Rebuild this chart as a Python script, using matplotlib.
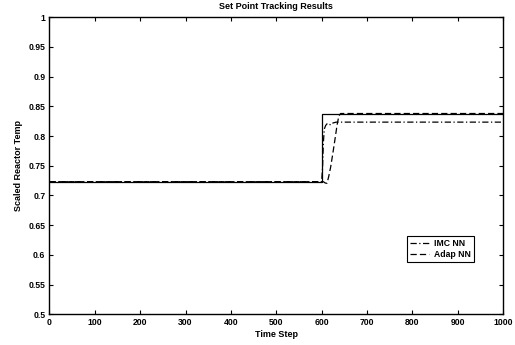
import matplotlib
matplotlib.use("Agg")
import matplotlib.pyplot as plt

# values
setpoint_t = [0, 600, 600, 1000]
setpoint_y = [0.7232, 0.7232, 0.837, 0.837]

imc_t = [0, 600, 602, 604, 606, 609, 613, 617, 620, 625, 632, 1000]
imc_y = [0.7232, 0.7232, 0.745, 0.790, 0.812, 0.818, 0.8215, 0.820, 0.8187, 0.822, 0.8235, 0.8235]

adap_t = [0, 604, 608, 612, 616, 620, 625, 630, 634, 638, 642, 1000]
adap_y = [0.7232, 0.7232, 0.721, 0.7205, 0.733, 0.748, 0.772, 0.797, 0.818, 0.834, 0.838, 0.838]

x_ticks = [0, 100, 200, 300, 400, 500, 600, 700, 800, 900, 1000]
y_ticks = [0.5, 0.55, 0.6, 0.65, 0.7, 0.75, 0.8, 0.85, 0.9, 0.95, 1]
y_labels = ["0.5", "0.55", "0.6", "0.65", "0.7", "0.75", "0.8", "0.85", "0.9", "0.95", "1"]

plt.rcParams['font.family'] = ['Liberation Sans', 'DejaVu Sans']
plt.rcParams['font.weight'] = 'bold'

fig = plt.figure(figsize=(5.15, 3.45), dpi=100)
ax = fig.add_axes([0.0961, 0.0890, 0.8806, 0.8609])

ax.plot(setpoint_t, setpoint_y, color='black', linewidth=0.9, linestyle='-')
ax.plot(imc_t, imc_y, color='black', linewidth=0.9, linestyle='-.', dashes=(5, 2, 1, 2), label='IMC NN')
ax.plot(adap_t, adap_y, color='black', linewidth=0.9, linestyle='--', dashes=(5, 2.5), label='Adap NN')

ax.set_xlim(0, 1000)
ax.set_ylim(0.5, 1)
ax.set_xticks(x_ticks)
ax.set_yticks(y_ticks)
ax.set_yticklabels(y_labels)
ax.tick_params(direction='in', top=True, right=True, length=3, width=0.8, labelsize=6.2, pad=3)
for s in ax.spines.values():
    s.set_linewidth(1.0)

ax.set_title('Set Point Tracking Results', fontsize=6.5, fontweight='bold', pad=6)
ax.set_xlabel('Time Step', fontsize=6.5, fontweight='bold', labelpad=2)
ax.set_ylabel('Scaled Reactor Temp', fontsize=6.5, fontweight='bold', labelpad=4)

leg = ax.legend(loc='lower right', bbox_to_anchor=(0.945, 0.16), fontsize=6.2, frameon=True,
                fancybox=False, edgecolor='black', framealpha=1, handlelength=2.2,
                borderpad=0.35, labelspacing=0.25, handletextpad=0.6)
leg.get_frame().set_linewidth(0.8)

fig.savefig('out.png', dpi=100)
